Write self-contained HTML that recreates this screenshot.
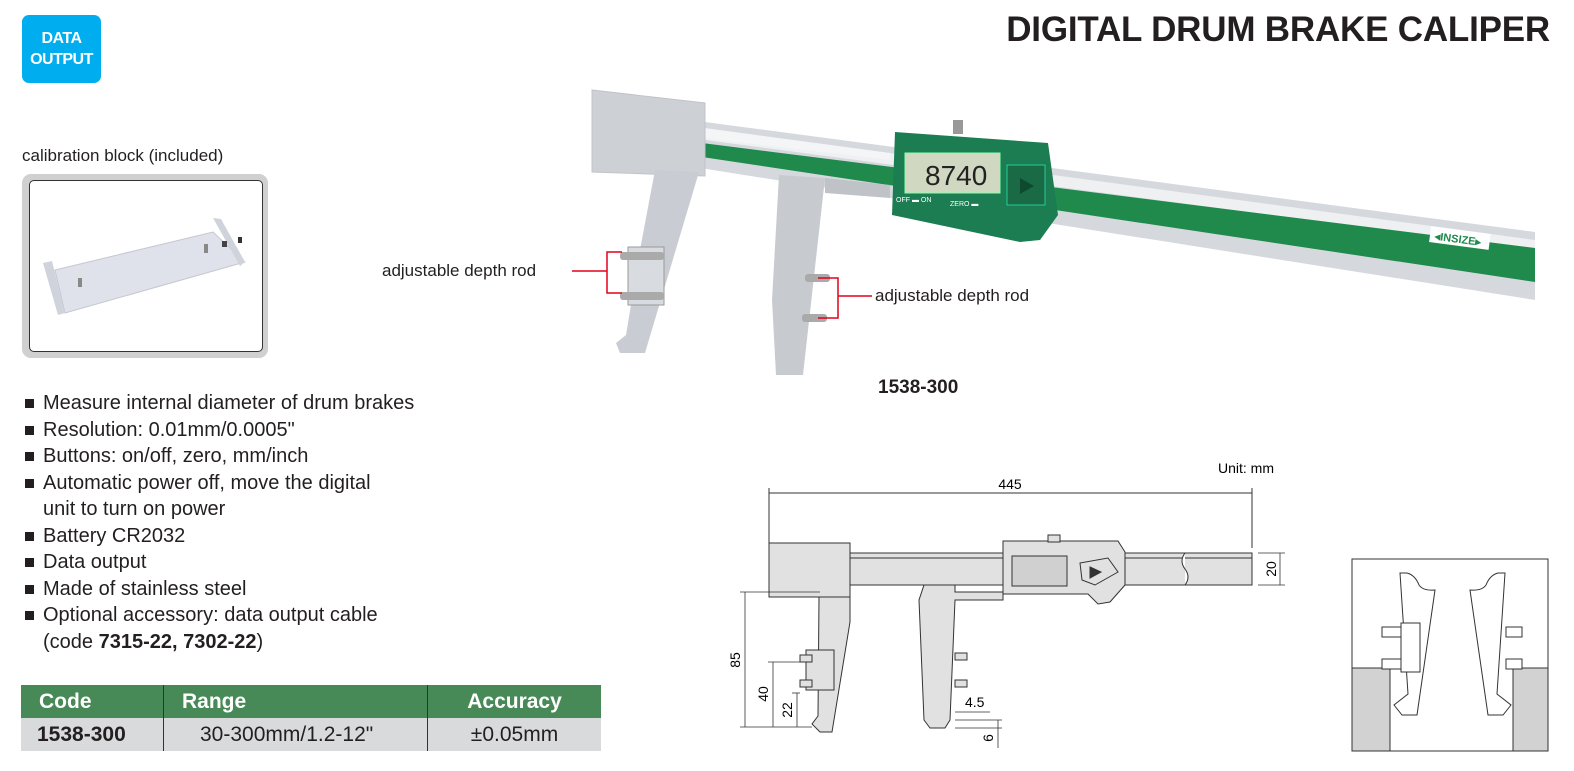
<!DOCTYPE html>
<html><head><meta charset="utf-8">
<style>
body{margin:0;width:1574px;height:771px;background:#fff;position:relative;overflow:hidden;font-family:"Liberation Sans",sans-serif;color:#231f20}
.abs{position:absolute}
#badge{left:22px;top:15px;width:79px;height:68px;background:#00aeef;border-radius:7px;color:#fff;font-weight:bold;font-size:16px;line-height:21px;text-align:center;padding-top:13px;box-sizing:border-box;letter-spacing:-0.5px}
#title{right:24px;top:10px;font-size:35px;font-weight:bold;color:#231f20;letter-spacing:-0.2px}
ul{position:absolute;left:22px;top:390px;margin:0;padding:0;list-style:none;font-size:20px;line-height:26.5px}
ul li{padding-left:21px;position:relative}
ul li:before{content:"";position:absolute;left:3px;top:9px;width:9px;height:9px;background:#231f20}
table{position:absolute;left:21px;top:685px;border-collapse:collapse;width:580px;font-size:21px}
th{background:#488a57;color:#fff;height:33px;text-align:left;font-weight:bold;padding:0 0 0 18px}
td{background:#d9dadb;height:33px;padding:0}
th+th,td+td{border-left:1.5px solid #333}
</style></head><body>
<div id="badge" class="abs">DATA<br>OUTPUT</div>
<div id="title" class="abs">DIGITAL DRUM BRAKE CALIPER</div>
<div class="abs" style="left:22px;top:146px;font-size:17px">calibration block (included)</div>
<div class="abs" style="left:22px;top:174px;width:246px;height:184px;background:#d0d0d0;border-radius:9px"></div>
<div class="abs" style="left:29px;top:180px;width:232px;height:170px;background:#fff;border:1px solid #333;border-radius:5px"></div>
<svg class="abs" style="left:0;top:0" width="1574" height="771">
 <polygon points="55,270 213,232 245,262 65,313" fill="#dfe2ea" stroke="#c4c8d0"/>
 <polygon points="43,263 52,261 65,313 58,315" fill="#cfd3dc"/>
 <polygon points="213,218 221,219 245,262 240,266" fill="#cfd3dc"/>
 <rect x="204" y="244" width="4" height="9" fill="#888"/><rect x="78" y="278" width="4" height="9" fill="#888"/>
 <rect x="222" y="241" width="5" height="6" fill="#444"/><rect x="238" y="237" width="4" height="6" fill="#333"/>
</svg>
<ul>
<li>Measure internal diameter of drum brakes</li>
<li>Resolution: 0.01mm/0.0005"</li>
<li>Buttons: on/off, zero, mm/inch</li>
<li>Automatic power off, move the digital<br>unit to turn on power</li>
<li>Battery CR2032</li>
<li>Data output</li>
<li>Made of stainless steel</li>
<li>Optional accessory: data output cable<br>(code <b>7315-22, 7302-22</b>)</li>
</ul>
<table>
<tr><th style="width:124px">Code</th><th style="width:245px">Range</th><th style="text-align:center;padding:0">Accuracy</th></tr>
<tr><td style="font-weight:bold;padding-left:16px">1538-300</td><td style="padding-left:36px">30-300mm/1.2-12"</td><td style="text-align:center">±0.05mm</td></tr>
</table>

<svg class="abs" style="left:0;top:0" width="1574" height="771" font-family="Liberation Sans, sans-serif">
 <polygon points="705,122 1535,232 1535,300 700,168" fill="#d5d9de"/>
 <polygon points="705,128 1535,240 1535,250 705,140" fill="#eef0f2"/>
 <polygon points="702,143 1535,248 1535,282 702,157" fill="#1f8a4c"/>
 <polygon points="702,128 890,153 890,160 702,138" fill="#f4f5f6"/>
 <rect x="1430" y="230" width="60" height="16" fill="#fff" transform="rotate(7.5 1460 237)"/>
 <text x="1435" y="243" font-size="11" font-weight="bold" fill="#1f8a4c" transform="rotate(7.5 1460 237)">◂INSIZE▸</text>
 <polygon points="592,90 705,103 705,176 592,172" fill="#cdd1d6" stroke="#c0c4c9"/>
 <polygon points="655,170 699,172 645,353 620,353 616,343 626,335 640,250" fill="#c9cdd3"/>
 <polygon points="779,175 825,178 803,375 776,375 772,300" fill="#c7cbd0"/>
 <polygon points="825,178 890,185 890,198 825,193" fill="#bfc3c8"/>
 <rect x="628" y="247" width="36" height="58" fill="#d8dbe0" stroke="#999"/>
 <rect x="620" y="252" width="44" height="8" rx="3" fill="#aaa"/><rect x="620" y="292" width="44" height="8" rx="3" fill="#aaa"/>
 <rect x="805" y="274" width="25" height="8" rx="3" fill="#aaa"/><rect x="802" y="314" width="25" height="8" rx="3" fill="#aaa"/>
 <polygon points="895,132 1048,143 1058,215 1040,240 1020,242 892,215" fill="#1c7c52"/>
 <rect x="905" y="153" width="95" height="40" fill="#d1d8c2" stroke="#8fa"/>
 <text x="925" y="185" font-size="28" fill="#222">8740</text>
 <rect x="1007" y="165" width="38" height="40" fill="#196a45" stroke="#2c9"/>
 <polygon points="1020,178 1034,186 1020,194" fill="#0e4a30"/>
 <rect x="953" y="120" width="10" height="14" fill="#999"/>
 <text x="896" y="202" font-size="7" fill="#fff">OFF ▬ ON</text><text x="950" y="206" font-size="7" fill="#fff">ZERO ▬</text>
 <text x="382" y="276" font-size="17" fill="#231f20">adjustable depth rod</text>
 <g stroke="#e3001b" stroke-width="1.5" fill="none">
  <line x1="572" y1="271" x2="607" y2="271"/><polyline points="622,252 607,252 607,293 622,293"/>
  <polyline points="818,278 838,278 838,318 818,318"/><line x1="838" y1="296" x2="872" y2="296"/>
 </g>
 <text x="875" y="301" font-size="17" fill="#231f20">adjustable depth rod</text>
 <text x="878" y="393" font-size="19" font-weight="bold" fill="#231f20">1538-300</text>
 <text x="1218" y="473" font-size="14">Unit: mm</text>
 <g stroke="#333" stroke-width="1" fill="#e1e1e1">
  <line x1="769" y1="493" x2="1252" y2="493" fill="none"/>
  <line x1="769" y1="488" x2="769" y2="543"/><line x1="1252" y1="488" x2="1252" y2="548"/>
  <rect x="850" y="553" width="402" height="32"/>
  <line x1="850" y1="558" x2="1252" y2="558"/>
  <rect x="769" y="543" width="81" height="54"/>
  <polygon points="819,597 850,597 850,622 832,732 820,732 812,724 818,716"/>
  <polygon points="924,585 955,585 955,592 1003,592 1003,600 955,600 950,720 945,728 930,728 924,720 919,600"/>
  <polygon points="1003,541 1118,541 1125,552 1125,585 1110,602 1098,604 1088,594 1003,594"/>
  <rect x="1012" y="556" width="55" height="30" fill="#d0d0d0"/>
  <polygon points="1080,563 1108,558 1118,572 1095,585 1082,580"/>
  <polygon points="1090,567 1101,572 1090,578" fill="#333"/>
  <rect x="1048" y="535" width="12" height="7"/>
  <rect x="806" y="650" width="28" height="40"/>
  <rect x="800" y="655" width="12" height="7"/><rect x="800" y="680" width="12" height="7"/>
  <rect x="955" y="653" width="12" height="7"/><rect x="955" y="680" width="12" height="7"/>
 </g>
 <path d="M1185,553 q-6,8 0,16 q6,8 0,16" stroke="#333" fill="#fff"/>
 <g stroke="#333" stroke-width="0.8">
  <line x1="740" y1="592" x2="820" y2="592"/><line x1="745" y1="592" x2="745" y2="727"/>
  <line x1="740" y1="727" x2="812" y2="727"/>
  <line x1="768" y1="662" x2="800" y2="662"/><line x1="773" y1="662" x2="773" y2="727"/>
  <line x1="792" y1="693" x2="800" y2="693"/><line x1="797" y1="693" x2="797" y2="727"/>
  <line x1="955" y1="712" x2="990" y2="712"/><line x1="1258" y1="553" x2="1285" y2="553"/><line x1="1258" y1="585" x2="1285" y2="585"/>
  <line x1="1280" y1="553" x2="1280" y2="585"/><line x1="998" y1="720" x2="998" y2="748"/>
  <line x1="955" y1="728" x2="1002" y2="728"/><line x1="955" y1="720" x2="1002" y2="720"/>
 </g>
 <text x="1010" y="489" font-size="14" text-anchor="middle">445</text>
 <text x="965" y="707" font-size="14">4.5</text>
 <text transform="translate(740,660) rotate(-90)" font-size="14" text-anchor="middle">85</text>
 <text transform="translate(768,694) rotate(-90)" font-size="14" text-anchor="middle">40</text>
 <text transform="translate(792,710) rotate(-90)" font-size="14" text-anchor="middle">22</text>
 <text transform="translate(1276,569) rotate(-90)" font-size="14" text-anchor="middle">20</text>
 <text transform="translate(993,738) rotate(-90)" font-size="14" text-anchor="middle">6</text>
 <rect x="1352" y="559" width="196" height="192" fill="#fff" stroke="#333"/>
 <rect x="1352" y="668" width="38" height="83" fill="#d2d2d2" stroke="#333"/>
 <rect x="1513" y="668" width="35" height="83" fill="#d2d2d2" stroke="#333"/>
 <g stroke="#333" fill="#fff" stroke-width="1">
  <path d="M1400,573 L1407,573 q8,2 12,12 q4,6 16,5 L1417,715 L1402,715 L1394,705 L1408,694 Z"/>
  <path d="M1505,573 L1498,573 q-8,2 -12,12 q-4,6 -16,5 L1488,715 L1503,715 L1511,705 L1497,694 Z"/>
  <rect x="1382" y="627" width="19" height="10"/><rect x="1382" y="659" width="19" height="10"/>
  <rect x="1401" y="623" width="19" height="49"/>
  <rect x="1506" y="627" width="16" height="10"/><rect x="1506" y="659" width="16" height="10"/>
 </g>
</svg>
</body></html>
